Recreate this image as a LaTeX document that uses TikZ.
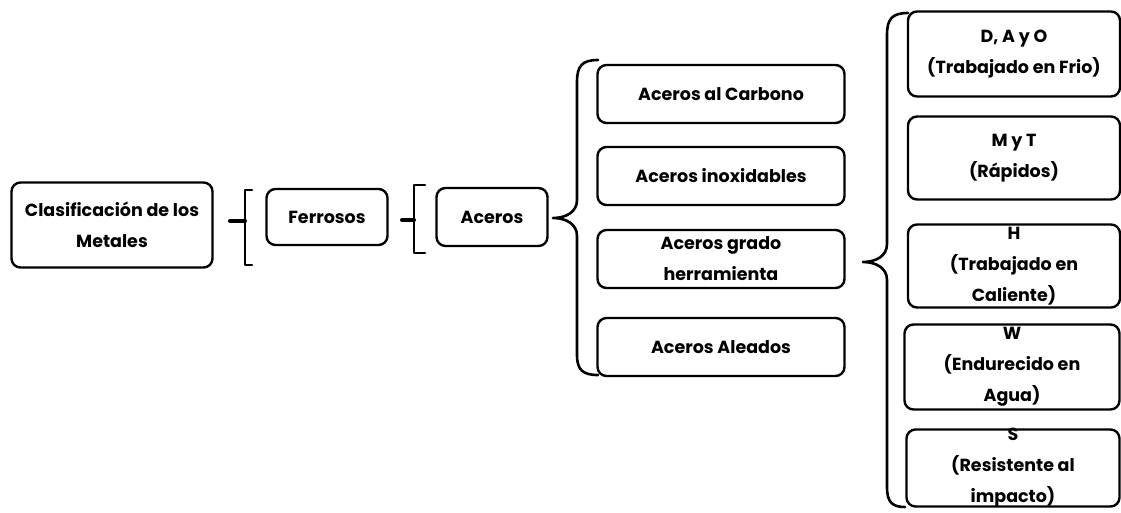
\documentclass[tikz,border=0pt]{standalone}
\usepackage{fontspec}
\setmainfont{Poppins}
\usetikzlibrary{arrows}

\begin{document}
\begin{tikzpicture}[x = 1pt, y = -1pt]
	\tikzstyle{boxStyle} = [shape = rectangle, rounded corners = 9pt, draw, line width = 2.4pt, inner xsep = 3pt, inner ysep = -2pt, align = center, font = \fontsize{17.5}{31}\selectfont\bfseries]
	\tikzstyle{braceStyle} = [line width = 2.6pt, line cap = round, line join = round]
	\tikzstyle{tickStyle} = [line width = 4pt, line cap = round]
	\useasboundingbox (0,0) rectangle (1121,512);
	% first level
	\node[boxStyle, minimum width = 201pt, minimum height = 85pt] (clas) at (112,225) {Clasificación de los\\Metales};
	\node[boxStyle, minimum width = 121pt, minimum height = 56pt] (ferr) at (327,217) {Ferrosos};
	\node[boxStyle, minimum width = 111pt, minimum height = 58pt] (acer) at (492,217) {Aceros};
	% aceros
	\node[boxStyle, minimum width = 247pt, minimum height = 58pt] (carb) at (721,94) {Aceros al Carbono};
	\node[boxStyle, minimum width = 247pt, minimum height = 58pt] (inox) at (721,176) {Aceros inoxidables};
	\node[boxStyle, minimum width = 247pt, minimum height = 58pt] (herr) at (721,259) {Aceros grado\\herramienta};
	\node[boxStyle, minimum width = 247pt, minimum height = 58pt] (alea) at (721,347) {Aceros Aleados};
	% herramienta
	\node[boxStyle, minimum width = 212pt, minimum height = 85pt] (dao) at (1014,54) {D, A y O\\(Trabajado en Frio)};
	\node[boxStyle, minimum width = 212pt, minimum height = 83pt] (myt) at (1014,158) {M y T\\(Rápidos)};
	\node[boxStyle, minimum width = 212pt, minimum height = 83pt] (h) at (1014,266) {H\\(Trabajado en\\Caliente)};
	\node[boxStyle, minimum width = 215pt, minimum height = 85pt] (w) at (1012,367) {W\\(Endurecido en\\Agua)};
	\node[boxStyle, minimum width = 213pt, minimum height = 77pt] (s) at (1013,468) {S\\(Resistente al\\impacto)};
	% brackets
	\coordinate (t1) at (230,221);
	\coordinate (t2) at (402,220);
	\draw[braceStyle] (252,190) -- (245,190) -- (245,265) -- (252,265);
	\draw[tickStyle] (t1) -- (245,221);
	\draw[braceStyle] (425,185) -- (414,185) -- (414,253) -- (425,253);
	\draw[tickStyle] (t2) -- (414,220);
	\draw[braceStyle] (598,60) .. controls (582,60) and (577,66) .. (577,82) -- (577,200) .. controls (577,212) and (566,218) .. (553,218) .. controls (566,218) and (577,224) .. (577,236) -- (577,355) .. controls (577,370) and (583,375) .. (598,375);
	\draw[braceStyle] (908,13) .. controls (892,13) and (887,19) .. (887,35) -- (887,244) .. controls (887,256) and (876,262) .. (863,262) .. controls (876,262) and (887,268) .. (887,280) -- (887,487) .. controls (887,502) and (892,507) .. (905,507);
\end{tikzpicture}
\end{document}
